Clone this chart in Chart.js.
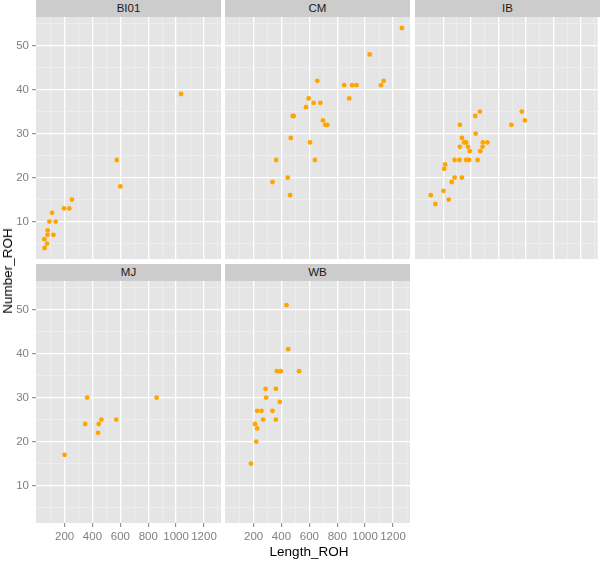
<!DOCTYPE html>
<html><head><meta charset="utf-8">
<script src="https://cdn.jsdelivr.net/npm/chart.js@4/dist/chart.umd.min.js"></script>
<style>
html,body{margin:0;padding:0;background:#fff;}
#wrap{position:relative;width:600px;height:562px;overflow:hidden;font-family:"Liberation Sans",Arial,Helvetica,sans-serif;}
#wrap canvas{position:absolute;left:0;top:0;}
.strip{position:absolute;background:#CCCCCC;color:#1a1a1a;font-size:11.5px;text-align:center;line-height:17px;height:17px;}
.atitle{position:absolute;color:#000;font-size:13.5px;white-space:nowrap;line-height:16px;}
</style></head>
<body><div id="wrap"></div>
<script>
// ---- data ----
const facets = ['BI01', 'CM', 'IB', 'MJ', 'WB'];
const xTitle = 'Length_ROH';
const yTitle = 'Number_ROH';

const bi01Length = [1036, 574, 600, 253, 196, 234, 110, 91, 136, 79, 77, 120, 55, 74, 57];
const bi01Number = [39, 24, 18, 15, 13, 13, 12, 10, 10, 8, 7, 7, 6, 5, 4];

const cmLength = [1264, 1033, 657, 850, 907, 938, 1114, 1133, 886, 595, 631, 679, 576, 488, 481, 698, 714, 729, 467, 605, 362, 640, 445, 336, 462];
const cmNumber = [54, 48, 42, 41, 41, 41, 41, 42, 38, 38, 37, 37, 36, 34, 34, 33, 32, 32, 29, 28, 24, 24, 20, 19, 16];

const ibLength = [771, 467, 433, 793, 321, 695, 436, 336, 352, 367, 488, 521, 381, 321, 486, 393, 469, 283, 319, 367, 388, 450, 214, 207, 283, 336, 262, 202, 110, 240, 143];
const ibNumber = [35, 35, 34, 33, 32, 32, 30, 29, 28, 28, 28, 28, 27, 27, 27, 26, 26, 24, 24, 24, 24, 24, 23, 22, 20, 20, 19, 17, 16, 15, 14];

const mjLength = [200, 362, 348, 445, 440, 464, 571, 860];
const mjNumber = [17, 30, 24, 24, 22, 25, 25, 30];

const wbLength = [436, 448, 367, 395, 526, 286, 360, 290, 388, 226, 257, 336, 269, 360, 210, 226, 219, 181];
const wbNumber = [51, 41, 36, 36, 36, 32, 32, 30, 29, 27, 27, 27, 25, 25, 24, 23, 20, 15];

const xMajorTicks = [200, 400, 600, 800, 1000, 1200];
const xMinorTicks = [100, 300, 500, 700, 900, 1100, 1300];
const yMajorTicks = [10, 20, 30, 40, 50];
const yMinorTicks = [5, 15, 25, 35, 45, 55];
const xLimits = [-5, 1322];
const yLimits = [1.5, 56.5];

// ---- layout ----
const W = 600, H = 562, PW = 185, PH = 242, STRIP = 17;
const YAXIS_W = 36, XAXIS_H = 24;
const FONT = '"Liberation Sans", Arial, Helvetica, sans-serif';
const panels = [
  {label: facets[0], xs: bi01Length, ys: bi01Number, left: 36,  top: 17,  showX: false, showY: true},
  {label: facets[1], xs: cmLength,   ys: cmNumber,   left: 225, top: 17,  showX: false, showY: false},
  {label: facets[2], xs: ibLength,   ys: ibNumber,   left: 415, top: 17,  showX: false, showY: false},
  {label: facets[3], xs: mjLength,   ys: mjNumber,   left: 36,  top: 281, showX: true,  showY: true},
  {label: facets[4], xs: wbLength,   ys: wbNumber,   left: 225, top: 281, showX: true,  showY: false}
];

const wrap = document.getElementById('wrap');

const bgPlugin = {
  id: 'panelBg',
  beforeDraw(chart) {
    const a = chart.chartArea, c = chart.ctx;
    c.save();
    c.fillStyle = '#E5E5E5';
    c.fillRect(a.left, a.top, a.right - a.left, a.bottom - a.top);
    c.restore();
  }
};

function axisOpts(show, majors, minors, limits, isX) {
  const all = majors.concat(minors).sort((a, b) => a - b);
  return {
    type: 'linear',
    min: limits[0],
    max: limits[1],
    afterBuildTicks: s => { s.ticks = all.map(v => ({value: v})); },
    afterFit: s => {
      if (isX) s.height = show ? XAXIS_H : 0;
      else s.width = show ? YAXIS_W : 0;
    },
    border: {display: false},
    grid: {
      color: c => (c.tick && majors.includes(c.tick.value)) ? '#FFFFFF' : '#F2F2F2',
      lineWidth: c => (c.tick && majors.includes(c.tick.value)) ? 1.3 : 0.6,
      drawTicks: show,
      tickLength: 4,
      tickWidth: 1,
      tickColor: c => (c.tick && majors.includes(c.tick.value)) ? '#7F7F7F' : 'rgba(0,0,0,0)'
    },
    ticks: {
      display: show,
      autoSkip: false,
      maxRotation: 0,
      minRotation: 0,
      padding: 3,
      color: '#7F7F7F',
      font: {family: FONT, size: 11.5},
      callback: v => majors.includes(v) ? String(v) : ''
    }
  };
}

panels.forEach(p => {
  const cv = document.createElement('canvas');
  cv.width = W; cv.height = H;
  cv.style.width = W + 'px'; cv.style.height = H + 'px';
  wrap.appendChild(cv);

  const strip = document.createElement('div');
  strip.className = 'strip';
  strip.style.left = p.left + 'px';
  strip.style.top = (p.top - STRIP) + 'px';
  strip.style.width = PW + 'px';
  strip.textContent = p.label;
  wrap.appendChild(strip);

  const padLeft = p.left - (p.showY ? YAXIS_W : 0);
  const padBottom = H - p.top - PH - (p.showX ? XAXIS_H : 0);

  new Chart(cv, {
    type: 'scatter',
    data: {
      datasets: [{
        data: p.xs.map((x, i) => ({x: x, y: p.ys[i]})),
        backgroundColor: '#FFA500',
        borderWidth: 0,
        pointRadius: 2.4,
        pointHoverRadius: 2.4
      }]
    },
    options: {
      responsive: false,
      animation: false,
      devicePixelRatio: 1,
      events: [],
      layout: {padding: {left: padLeft, top: p.top, right: W - p.left - PW, bottom: padBottom}},
      plugins: {legend: {display: false}, tooltip: {enabled: false}},
      scales: {
        x: axisOpts(p.showX, xMajorTicks, xMinorTicks, xLimits, true),
        y: axisOpts(p.showY, yMajorTicks, yMinorTicks, yLimits, false)
      }
    },
    plugins: [bgPlugin]
  });
});

const xt = document.createElement('div');
xt.className = 'atitle';
xt.textContent = xTitle;
xt.style.left = '309px'; xt.style.top = '544px';
xt.style.transform = 'translateX(-50%)';
wrap.appendChild(xt);

const yt = document.createElement('div');
yt.className = 'atitle';
yt.textContent = yTitle;
yt.style.left = '8px'; yt.style.top = '271px';
yt.style.transform = 'translate(-50%,-50%) rotate(-90deg)';
wrap.appendChild(yt);
</script>
</body></html>
